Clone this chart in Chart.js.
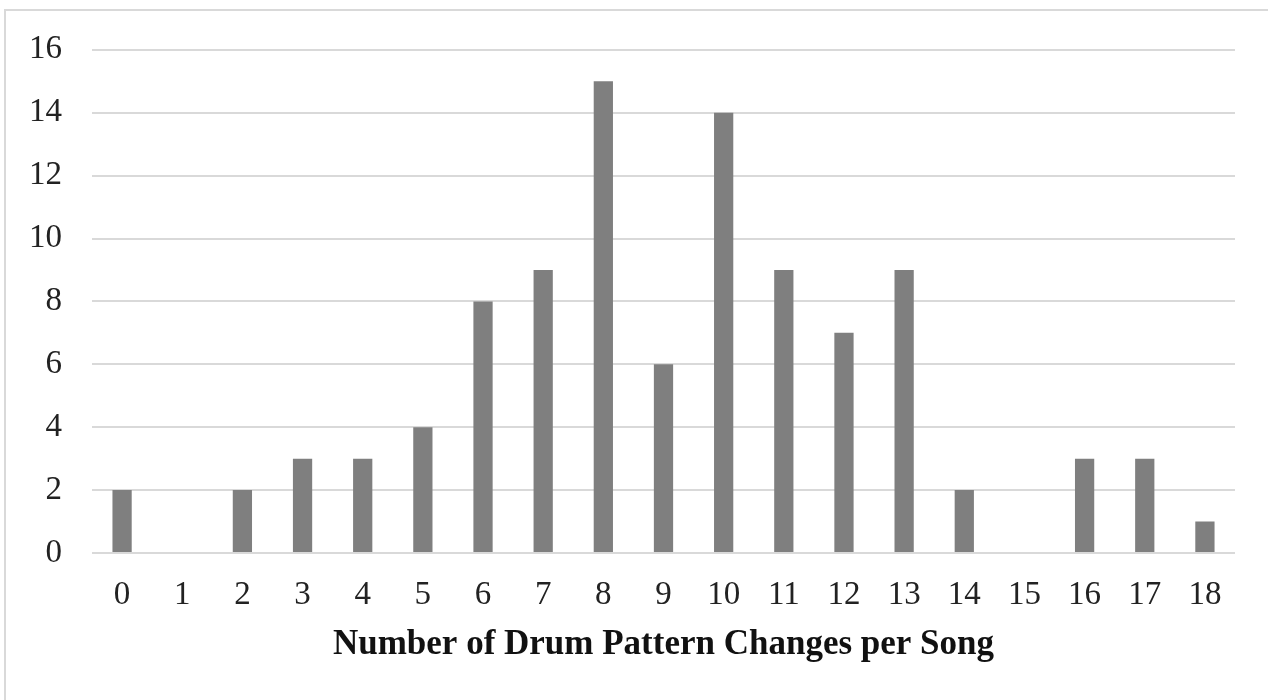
<!DOCTYPE html>
<html>
<head>
<meta charset="utf-8">
<script src="https://cdn.jsdelivr.net/npm/chart.js@4.4.1/dist/chart.umd.min.js"></script>
<style>
  html, body { margin:0; padding:0; background:#fff; overflow:hidden; }
  #frame { position:absolute; left:4px; top:9px; width:1300px; height:720px; border:2px solid #d9d9d9; box-sizing:border-box; }
  #wrap { position:absolute; left:0; top:0; width:1268px; height:700px; }
</style>
</head>
<body>
<div id="frame"></div>
<div id="wrap"><canvas id="chart" width="1268" height="700"></canvas></div>
<script>
// data
const changes = ['0','1','2','3','4','5','6','7','8','9','10','11','12','13','14','15','16','17','18'];
const songCounts = [2,0,2,3,3,4,8,9,15,6,14,9,7,9,2,0,3,3,1];
const yTicks = [0,2,4,6,8,10,12,14,16];

const serif = "'Liberation Serif', 'DejaVu Serif', serif";

new Chart(document.getElementById('chart').getContext('2d'), {
    type:'bar',
    data:{
        labels:changes,
        datasets:[{data:songCounts, backgroundColor:'#7f7f7f', barPercentage:0.32, categoryPercentage:1}]
    },
    options:{
        responsive:false,
        animation:false,
        layout:{padding:{left:0, right:33, top:48, bottom:0}},
        plugins:{legend:{display:false}, tooltip:{enabled:false}},
        scales:{
            x:{
                grid:{display:false, drawTicks:false},
                border:{display:false},
                ticks:{color:'#222', padding:23, font:{family:serif, size:33}},
                title:{display:true, text:'Number of Drum Pattern Changes per Song', color:'#111',
                       font:{family:serif, size:35, weight:'bold'}, padding:{top:4, bottom:34}},
                afterFit(s){ s.height = 700 - 553; }
            },
            y:{
                min:0, max:16,
                afterBuildTicks(s){ s.ticks = yTicks.map(v=>({value:v})); },
                grid:{color:'#d9d9d9', lineWidth:2, drawTicks:false},
                border:{display:false},
                ticks:{color:'#222', padding:30, font:{family:serif, size:33}},
                afterFit(s){ s.width = 92; }
            }
        }
    }
});
</script>
</body>
</html>
